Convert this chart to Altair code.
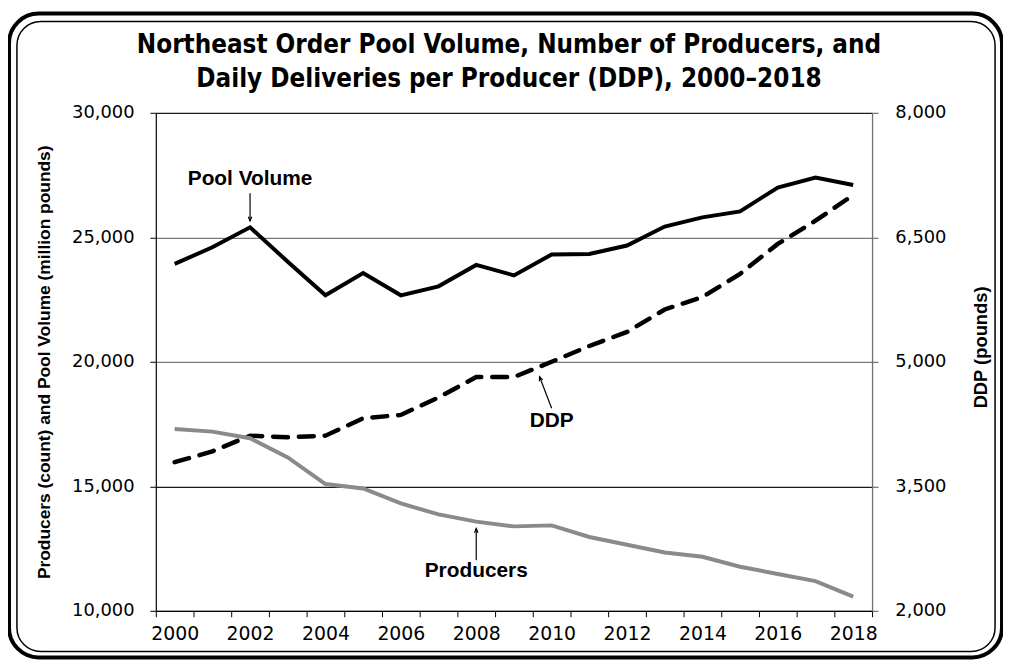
import altair as alt
import pandas as pd

# ---------------- data ----------------
years = list(range(2000, 2019))
pool_volume = [23930, 24600, 25400, 24020, 22670, 23560, 22670, 23030, 23890, 23470,
               24310, 24330, 24670, 25430, 25800, 26040, 27000, 27400, 27100]
producers = [17300, 17195, 16930, 16160, 15090, 14910, 14310, 13870, 13580, 13390,
             13430, 12965, 12650, 12340, 12170, 11770, 11480, 11190, 10570]
ddp = [3790, 3920, 4110, 4090, 4110, 4320, 4360, 4570, 4816, 4816,
       5000, 5190, 5360, 5630, 5780, 6060, 6420, 6700, 7010]

left_ticks = [10000, 15000, 20000, 25000, 30000]
right_ticks = [2000, 3500, 5000, 6500, 8000]
x_ticks = [1999.5 + 0.5 * i for i in range(39)]

title_lines = ["Northeast Order Pool Volume, Number of Producers, and",
               "Daily Deliveries per Producer (DDP), 2000\u20132018"]
left_title = "Producers (count) and Pool Volume (million pounds)"
right_title = "DDP (pounds)"

# annotations (left scale)
ann_left_text = ["Pool Volume", "Producers"]
ann_left_x = [2002, 2008]
ann_left_y = [27330, 11600]
arrow_left_x = [2002, 2008]
arrow_left_y_from = [26770, 12030]
arrow_left_y_to = [25660, 13300]
# annotations (right scale)
ann_right_text = ["DDP"]
ann_right_x = [2010]
ann_right_y = [4283]
arrow_right_x_from = [2010.0]
arrow_right_y_from = [4440]
arrow_right_x_to = [2009.68]
arrow_right_y_to = [4820]

df = pd.DataFrame({"year": years, "pool": pool_volume,
                   "producers": producers, "ddp": ddp})
ann_l = pd.DataFrame({"text": ann_left_text, "x": ann_left_x, "y": ann_left_y})
arr_l = pd.DataFrame({"x": arrow_left_x, "y": arrow_left_y_from, "y2": arrow_left_y_to})
ann_r = pd.DataFrame({"text": ann_right_text, "x": ann_right_x, "y": ann_right_y})
arr_r = pd.DataFrame({"x": arrow_right_x_from, "y": arrow_right_y_from,
                      "x2": arrow_right_x_to, "y2": arrow_right_y_to})

W, H = 722, 502
TICK_FONT = "DejaVu Sans"
BOLD_FONT = "Liberation Sans"

xscale = alt.Scale(domain=[1999.5, 2018.5], nice=False, zero=False)
lscale = alt.Scale(domain=[10000, 30000], nice=False, zero=False)
rscale = alt.Scale(domain=[2000, 8000], nice=False, zero=False)

x_axis = alt.Axis(
    values=x_ticks, title=None, grid=False, labelFlush=False, labelOverlap=False,
    labelExpr="datum.value % 2 == 0 ? datum.value : ''",
    tickOpacity={"condition": {"test": "datum.value % 1 == 0", "value": 0}, "value": 1},
    tickSize=6, tickColor="black", domainColor="black", domainWidth=1.2,
    labelFont=TICK_FONT, labelFontSize=19, labelColor="black", labelPadding=8,
)


def X(field):
    return alt.X(field, type="quantitative", scale=xscale, axis=x_axis)


left_axis = alt.Axis(
    values=left_ticks, format=",d", title=left_title, orient="left",
    grid=True,
    gridColor={"condition": {"test": "datum.value == 15000 || datum.value == 30000",
                             "value": "#1a1a1a"}, "value": "#777777"},
    gridWidth=1.3,
    domainColor="black", domainWidth=1.2, tickColor="black", tickSize=6,
    labelFont=TICK_FONT, labelFontSize=18, labelColor="black", labelPadding=16,
    titleFont=BOLD_FONT, titleFontSize=17.5, titleFontWeight="bold", titleColor="black",
    titlePadding=18,
)
right_axis = alt.Axis(
    values=right_ticks, format=",d", title=right_title, orient="right",
    grid=False, domainColor="#707070", domainWidth=1.3, tickColor="#555555", tickSize=6,
    labelFont=TICK_FONT, labelFontSize=18, labelColor="black", labelPadding=17,
    titleFont=BOLD_FONT, titleFontSize=18.5, titleFontWeight="bold", titleColor="black",
    titleAngle=270, titlePadding=45, titleY=236,
)

base = alt.Chart(df)

pool_line = base.mark_line(color="black", strokeWidth=4, strokeJoin="miter").encode(
    x=X("year"), y=alt.Y("pool:Q", scale=lscale, axis=left_axis))
ddp_line = base.mark_line(color="black", strokeWidth=4.5, strokeDash=[15, 11],
                          strokeCap="round").encode(
    x=X("year"), y=alt.Y("ddp:Q", scale=rscale, axis=right_axis))
prod_line = base.mark_line(color="#8a8a8a", strokeWidth=4).encode(
    x=X("year"), y=alt.Y("producers:Q", scale=lscale, axis=None))

ann_text_l = alt.Chart(ann_l).mark_text(
    font=BOLD_FONT, fontSize=21, fontWeight="bold", color="black", baseline="middle"
).encode(x=X("x"), y=alt.Y("y:Q", scale=lscale, axis=None), text="text:N")
arrow_l = alt.Chart(arr_l).mark_rule(color="black", strokeWidth=1.2).encode(
    x=X("x"), y=alt.Y("y:Q", scale=lscale, axis=None), y2="y2:Q")
head_pool = alt.Chart(arr_l.iloc[[0]]).mark_point(
    shape="M-0.55,-1.3L0,0L0.55,-1.3", filled=False, stroke="black", strokeWidth=1.2,
    size=40, opacity=1).encode(x=X("x"), y=alt.Y("y2:Q", scale=lscale, axis=None))
head_prod = alt.Chart(arr_l.iloc[[1]]).mark_point(
    shape="M-0.55,1.3L0,0L0.55,1.3", filled=False, stroke="black", strokeWidth=1.2,
    size=40, opacity=1).encode(x=X("x"), y=alt.Y("y2:Q", scale=lscale, axis=None))

ann_text_r = alt.Chart(ann_r).mark_text(
    font=BOLD_FONT, fontSize=21, fontWeight="bold", color="black", baseline="middle"
).encode(x=X("x"), y=alt.Y("y:Q", scale=rscale, axis=None), text="text:N")
arrow_r = alt.Chart(arr_r).mark_rule(color="black", strokeWidth=1.2).encode(
    x=X("x"), x2="x2:Q", y=alt.Y("y:Q", scale=rscale, axis=None), y2="y2:Q")
head_ddp = alt.Chart(arr_r).mark_point(
    shape="M-0.55,1.3L0,0L0.55,1.3", filled=False, stroke="black", strokeWidth=1.2,
    size=40, opacity=1, angle=339).encode(
    x=X("x2"), y=alt.Y("y2:Q", scale=rscale, axis=None))

# frame (decoration around the whole chart)
frame_df = pd.DataFrame({"k": [0]})
frame_outer = alt.Chart(frame_df).mark_rect(
    fillOpacity=0, stroke="black", strokeWidth=4, cornerRadius=30, clip=False
).encode(x=alt.value(-148), x2=alt.value(853), y=alt.value(-100), y2=alt.value(549))
frame_inner = alt.Chart(frame_df).mark_rect(
    fillOpacity=0, stroke="black", strokeWidth=1.5, cornerRadius=24, clip=False
).encode(x=alt.value(-140), x2=alt.value(846), y=alt.value(-92), y2=alt.value(543))

chart = alt.layer(
    pool_line, ddp_line, prod_line, ann_text_l, arrow_l, head_pool, head_prod,
    ann_text_r, arrow_r, head_ddp, frame_outer, frame_inner,
).resolve_scale(y="independent").properties(
    width=W, height=H,
    autosize=alt.AutoSizeParams(type="none"),
    padding={"left": 149, "top": 103, "right": 132, "bottom": 50},
    background="white",
    title=alt.Title(title_lines, font="DejaVu Sans Condensed, DejaVu Sans", fontSize=26,
                    fontWeight="bold", color="black", anchor="middle", frame="group",
                    baseline="bottom", offset=0, dy=107, dx=-5, lineHeight=34),
).configure_view(stroke=None)

chart.save("out.html", embed_options={"renderer": "svg", "actions": False})
